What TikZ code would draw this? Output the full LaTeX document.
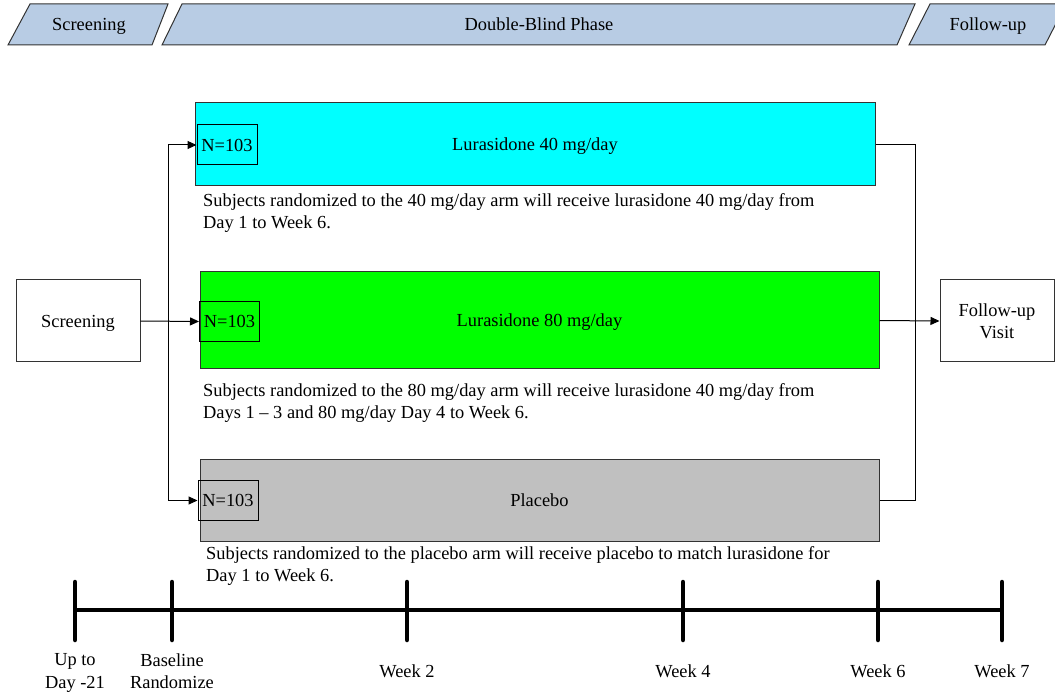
\documentclass[tikz,border=0pt]{standalone}
\usepackage{fontspec}
\setmainfont{Liberation Serif}
\usetikzlibrary{arrows.meta}
\definecolor{phaseblue}{HTML}{B8CCE4}
\definecolor{armcyan}{RGB}{0,255,255}
\definecolor{armgreen}{RGB}{0,255,0}
\definecolor{armgray}{HTML}{C0C0C0}
\definecolor{edgegray}{HTML}{333333}

\begin{document}
\begin{tikzpicture}[x=1pt,y=-1pt,
    txt/.style={font=\fontsize{18.4}{22.5}\selectfont,text depth=0pt},
    phase/.style={draw=edgegray,fill=phaseblue,line width=1pt},
    armbox/.style={txt,draw=edgegray,line width=1pt,inner sep=0pt},
    nbox/.style={txt,draw=black,line width=1pt,inner sep=0pt,minimum width=60pt,minimum height=40pt},
    note/.style={txt,anchor=north west,align=left,inner sep=0pt},
    arrow/.style={-{Triangle[length=9pt,width=8pt]},line width=1pt},
    tick/.style={line width=4.5pt,line cap=round}]
    \useasboundingbox (0,0) rectangle (1055,692);

    % Phase bar on top
    \draw[phase] (30,4) -- (168,4) -- (152,45) -- (8,45) -- cycle;
    \node[txt] (phscreen) at (89,24) {Screening};
    \draw[phase] (182,4) -- (915,4) -- (897,45) -- (162,45) -- cycle;
    \node[txt] (phdouble) at (539,24) {Double-Blind Phase};
    \draw[phase] (930,4) -- (1066,4) -- (1045,45) -- (909,45) -- cycle;
    \node[txt] (phfollow) at (988,24) {Follow-up};

    % Treatment arms
    \node[armbox,fill=armcyan,minimum width=680pt,minimum height=83pt] (arm40) at (535,144.5) {Lurasidone 40 mg/day};
    \node[armbox,fill=armgreen,minimum width=679pt,minimum height=97pt] (arm80) at (539.5,320.5) {Lurasidone 80 mg/day};
    \node[armbox,fill=armgray,minimum width=679pt,minimum height=82pt] (armpl) at (539.5,500) {Placebo};
    \node[nbox] (n40) at (227,145) {N=103};
    \node[nbox] (n80) at (229.5,321.5) {N=103};
    \node[nbox] (npl) at (228,500.5) {N=103};

    \node[note] (note40) at (203,193) {Subjects randomized to the 40 mg/day arm will receive lurasidone 40 mg/day from\\Day 1 to Week 6.};
    \node[note] (note80) at (203,383) {Subjects randomized to the 80 mg/day arm will receive lurasidone 40 mg/day from\\Days 1 -- 3 and 80 mg/day Day 4 to Week 6.};
    \node[note] (notepl) at (206,546) {Subjects randomized to the placebo arm will receive placebo to match lurasidone for\\Day 1 to Week 6.};

    % Screening and follow-up
    \node[armbox,fill=white,minimum width=124pt,minimum height=82pt] (scr) at (78,321) {Screening};
    \node[armbox,fill=white,minimum width=114pt,minimum height=82pt,align=center] (fu) at (997,321) {Follow-up\\Visit};

    % Connectors
    \coordinate (splitx) at (168,321);
    \coordinate (mergex) at (915,321);
    \draw[line width=1pt] (splitx |- n40.west) -- (splitx |- npl.west);
    \draw[arrow] (splitx |- n40.west) -- (n40.west);
    \draw[arrow] (splitx |- npl.west) -- (npl.west);
    \draw[arrow] (scr.east) -- (n80.west);
    \draw[line width=1pt] (arm40.east) -- (mergex |- arm40.east) -- (mergex |- armpl.east) -- (armpl.east);
    \draw[arrow] (arm80.east) -- (fu.west);

    % Timeline
    \coordinate (tlstart) at (75,610);
    \coordinate (tlend) at (1002,610);
    \draw[line width=4.5pt] (tlstart) -- (tlend);
    \foreach \x/\name/\lbl in {75/tday/{Up to\\Day -21}, 172/tbase/{Baseline\\Randomize}, 407/tw2/Week 2, 683/tw4/Week 4, 878/tw6/Week 6, 1002/tw7/Week 7} {
        \draw[tick] (\x,582) -- (\x,640);
        \node[txt,align=center] (\name) at (\x,671) {\lbl};
    }
\end{tikzpicture}
\end{document}
